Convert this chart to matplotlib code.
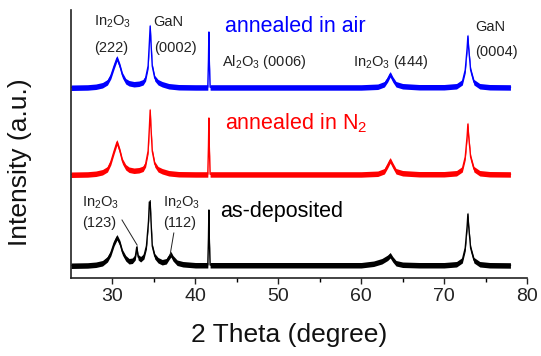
import matplotlib
matplotlib.use("Agg")
import matplotlib.pyplot as plt
import numpy as np

plt.rcParams['font.family'] = ['Liberation Sans', 'DejaVu Sans']
plt.rcParams['mathtext.fontset'] = 'custom'
plt.rcParams['mathtext.rm'] = 'Liberation Sans'
plt.rcParams['mathtext.it'] = 'Liberation Sans'
plt.rcParams['mathtext.default'] = 'regular'

# ---- data: 2-theta positions (degree) and intensity above each baseline (a.u.) ----
air_x = [25.0, 27.0, 28.0, 28.8, 29.4, 29.8, 30.2, 30.55, 30.9, 31.2, 31.6, 32.0, 32.6,
         33.2, 33.7, 34.0, 34.3, 34.45, 34.55, 34.65, 34.8, 35.1, 35.5, 36.0, 36.8, 38.0,
         40.0, 41.5, 41.58, 41.63, 41.68, 41.78, 45.0, 50.0, 55.0, 60.0, 62.0, 62.8, 63.2,
         63.5, 63.8, 64.2, 65.0, 67.0, 70.0, 71.5, 72.2, 72.55, 72.78, 72.87, 72.96, 73.2,
         73.6, 74.3, 75.5, 78.0]
air_y = [0.5, 0.8, 1.5, 3.0, 6.0, 12.0, 22.0, 30.0, 22.0, 13.0, 7.0, 5.0, 4.0,
         4.5, 6.0, 10.0, 22.0, 45.0, 62.0, 45.0, 22.0, 10.0, 6.0, 4.0, 2.0, 1.0,
         0.8, 0.8, 28.0, 56.0, 28.0, 0.8, 0.8, 0.8, 0.8, 0.8, 1.5, 4.0, 9.0,
         14.0, 9.0, 4.0, 2.0, 1.0, 1.0, 2.0, 6.0, 18.0, 40.0, 52.0, 40.0, 18.0,
         6.0, 2.0, 1.0, 0.8]

n2_x = [25.0, 27.0, 28.0, 28.8, 29.4, 29.8, 30.2, 30.55, 30.9, 31.2, 31.6, 32.0, 32.6,
        33.2, 33.7, 34.0, 34.3, 34.45, 34.55, 34.65, 34.8, 35.1, 35.5, 36.0, 36.8, 38.0,
        40.0, 41.5, 41.58, 41.63, 41.68, 41.78, 45.0, 50.0, 55.0, 60.0, 62.0, 62.8, 63.2,
        63.5, 63.8, 64.2, 65.0, 67.0, 70.0, 71.5, 72.2, 72.55, 72.78, 72.87, 72.96, 73.2,
        73.6, 74.3, 75.5, 78.0]
n2_y = [0.5, 0.8, 1.5, 3.0, 6.0, 13.0, 24.0, 33.0, 24.0, 14.0, 8.0, 5.5, 4.5,
        5.0, 6.5, 11.0, 24.0, 47.0, 65.0, 47.0, 24.0, 11.0, 6.0, 4.0, 2.0, 1.0,
        0.8, 0.8, 29.0, 57.0, 29.0, 0.8, 0.8, 0.8, 0.8, 0.8, 1.5, 4.0, 10.0,
        15.0, 10.0, 4.0, 2.0, 1.0, 1.0, 2.0, 6.0, 18.0, 39.0, 51.0, 39.0, 18.0,
        6.0, 2.0, 1.0, 0.8]

dep_x = [25.0, 27.0, 28.0, 28.8, 29.4, 29.8, 30.2, 30.55, 30.9, 31.2, 31.6, 32.0, 32.4,
         32.75, 32.93, 33.1, 33.4, 33.8, 34.1, 34.35, 34.45, 34.55, 34.65, 34.8, 35.1, 35.5,
         36.0, 36.5, 36.8, 37.05, 37.3, 37.8, 38.5, 40.0, 41.5, 41.58, 41.63, 41.68, 41.78,
         45.0, 50.0, 55.0, 60.0, 61.5, 62.5, 63.2, 63.5, 63.8, 64.2, 65.0, 67.0, 70.0,
         71.5, 72.2, 72.55, 72.78, 72.87, 72.96, 73.2, 73.6, 74.3, 75.5, 78.0]
dep_y = [0.5, 0.8, 1.5, 3.0, 7.0, 13.0, 23.0, 29.0, 23.0, 14.0, 8.0, 5.0, 5.5,
         9.0, 19.0, 9.0, 7.0, 10.0, 20.0, 45.0, 64.0, 64.0, 45.0, 20.0, 10.0, 6.0,
         4.0, 5.0, 9.0, 12.0, 8.0, 3.5, 2.0, 1.0, 1.0, 28.0, 56.0, 28.0, 1.0,
         1.0, 1.0, 1.0, 1.0, 2.5, 5.0, 8.5, 11.0, 7.0, 3.0, 1.5, 1.0, 1.0,
         2.0, 6.0, 18.0, 40.0, 52.0, 40.0, 18.0, 6.0, 2.0, 1.0, 0.8]

series = [
    (dep_x, dep_y, 12, 'black'),
    (n2_x, n2_y, 103, '#ff0000'),
    (air_x, air_y, 190, '#0000ff'),
]

fig = plt.figure(figsize=(5.41, 3.56), dpi=100)
ax = fig.add_axes([71/541, 1 - 278/356, 456/541, 268/356])

for xs, ys, base, col in series:
    xs = np.asarray(xs)
    yy = np.asarray(ys) + base
    ax.fill_between(xs, yy - 3.0, yy + 2.5, color=col, lw=0)
    ax.plot(xs, yy, color=col, lw=1.0)

ax.set_xlim(25, 80)
ax.set_ylim(0, 268)
ax.set_yticks([])
ax.set_xticks([30, 40, 50, 60, 70, 80])
ax.set_xticks([35, 45, 55, 65, 75], minor=True)
ax.tick_params(axis='x', which='major', direction='out', length=4, width=1.0,
               labelsize=14, pad=3, colors='#222222')
ax.tick_params(axis='x', which='minor', direction='out', length=3, width=1.0)
for s in ['top', 'right']:
    ax.spines[s].set_visible(False)
for s in ['left', 'bottom']:
    ax.spines[s].set_linewidth(1.2)
    ax.spines[s].set_color('#222222')

fig.text(289/541, 1 - 335/356, '2 Theta (degree)', ha='center', va='center',
         fontsize=19, color='#111111')
fig.text(20/541, 1 - 162/356, 'Intensity (a.u.)', ha='center', va='center',
         rotation=90, fontsize=19, color='#111111')

tc = '#222222'
fs = 10.5
ax.text(30.0, 256, 'In$_2$O$_3$', ha='center', va='center', fontsize=fs, color=tc)
ax.text(29.8, 230, '(222)', ha='center', va='center', fontsize=fs, color=tc)
ax.text(34.9, 256, 'GaN', ha='left', va='center', fontsize=fs, color=tc)
ax.text(35.0, 230, '(0002)', ha='left', va='center', fontsize=fs, color=tc)
ax.text(43.2, 216, 'Al$_2$O$_3$ (0006)', ha='left', va='center', fontsize=fs, color=tc)
ax.text(59.0, 216, 'In$_2$O$_3$ (444)', ha='left', va='center', fontsize=fs, color=tc)
ax.text(73.8, 251, 'GaN', ha='left', va='center', fontsize=fs, color=tc)
ax.text(73.8, 226, '(0004)', ha='left', va='center', fontsize=fs, color=tc)
ax.text(26.3, 75, 'In$_2$O$_3$', ha='left', va='center', fontsize=fs, color=tc)
ax.text(26.3, 55, '(123)', ha='left', va='center', fontsize=fs, color=tc)
ax.text(36.1, 75, 'In$_2$O$_3$', ha='left', va='center', fontsize=fs, color=tc)
ax.text(36.1, 55, '(112)', ha='left', va='center', fontsize=fs, color=tc)
ax.plot([31.15, 32.97], [58, 33], color=tc, lw=0.7)
ax.plot([37.4, 36.95], [45, 23], color=tc, lw=0.7)

ax.text(43.6, 251, 'annealed in air', ha='left', va='center', fontsize=15.5, color='#0000ff')
ax.text(43.6, 155, 'annealed in N$_2$', ha='left', va='center', fontsize=15.5, color='#ff0000')
ax.text(43.0, 66, 'as-deposited', ha='left', va='center', fontsize=15.5, color='black')

fig.savefig('out.png', dpi=100)
